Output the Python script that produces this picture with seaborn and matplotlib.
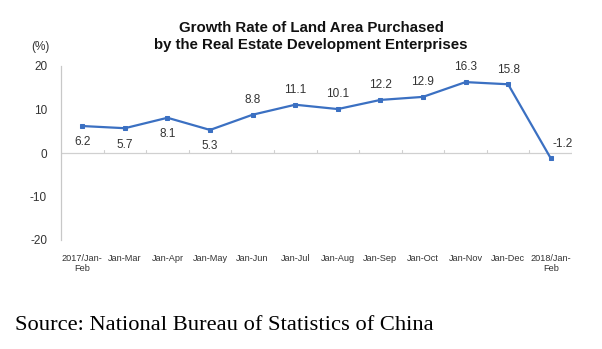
import matplotlib
matplotlib.use("Agg")
import matplotlib.pyplot as plt
import seaborn as sns
import pandas as pd
import numpy as np

categories = ["2017/Jan-\nFeb", "Jan-Mar", "Jan-Apr", "Jan-May", "Jan-Jun", "Jan-Jul",
              "Jan-Aug", "Jan-Sep", "Jan-Oct", "Jan-Nov", "Jan-Dec", "2018/Jan-\nFeb"]
values = [6.2, 5.7, 8.1, 5.3, 8.8, 11.1, 10.1, 12.2, 12.9, 16.3, 15.8, -1.2]
label_below = [True, True, True, True, False, False, False, False, False, False, False, False]
yticks = [-20, -10, 0, 10, 20]

sns.set_theme(style="white")
plt.rcParams['font.family'] = ['Liberation Sans', 'DejaVu Sans']

fig = plt.figure(figsize=(6.02, 3.49), dpi=100)
ax = fig.add_axes([61/602, 1-240/349, (572-61)/602, (240-66)/349])

df = pd.DataFrame({"x": np.arange(len(categories)), "v": values})
line_color = "#3B70C2"
sns.lineplot(data=df, x="x", y="v", ax=ax, color=line_color, linewidth=1.6,
             marker="s", markersize=3.5, markeredgecolor=line_color)

ax.set_xlim(-0.5, len(categories) - 0.5)
ax.set_ylim(-20, 20)
ax.set_yticks(yticks)
ax.set_yticklabels([str(t) for t in yticks], fontsize=8.5, color="#333333")
ax.set_xticks(np.arange(len(categories)))
ax.set_xticklabels(categories, fontsize=6.6, color="#333333", linespacing=1.1)
ax.tick_params(axis="x", length=0, pad=10)
ax.tick_params(axis="y", length=3, width=0.6, color="#bbbbbb", direction="in", pad=10)
ax.set_xlabel("")
ax.set_ylabel("")

for s in ["top", "right", "bottom"]:
    ax.spines[s].set_visible(False)
ax.spines["left"].set_color("#c8c8c8")
ax.spines["left"].set_linewidth(0.9)

# zero line with small ticks at category boundaries
ax.axhline(0, color="#d0d0d0", linewidth=0.9, zorder=0)
for b in np.arange(0.5, len(categories) - 0.5, 1.0):
    ax.plot([b, b], [0, 0.8], color="#d0d0d0", linewidth=0.8, zorder=0)
ax.plot([len(categories) - 0.5] * 2, [0, 0.8], color="#d0d0d0", linewidth=0.8, zorder=0)

for i, (v, below) in enumerate(zip(values, label_below)):
    if i == len(values) - 1:
        ax.text(i + 0.05, v + 2.0, f"{v}", ha="left", va="bottom", fontsize=8.5, color="#333333")
    elif below:
        ax.text(i, v - 2.4, f"{v}", ha="center", va="top", fontsize=8.5, color="#333333")
    else:
        ax.text(i, v + 2.0, f"{v}", ha="center", va="bottom", fontsize=8.5, color="#333333")

fig.text(40/602, 1-47/349, "(%)", fontsize=8.5, color="#333333", ha="center", va="center")
fig.text(311/602, 1-28/349, "Growth Rate of Land Area Purchased", fontsize=10.8,
         fontweight="bold", ha="center", va="center", color="#111111")
fig.text(311/602, 1-45/349, "by the Real Estate Development Enterprises", fontsize=10.8,
         fontweight="bold", ha="center", va="center", color="#111111")
fig.text(15/602, 1-325/349, "Source: National Bureau of Statistics of China", fontsize=16.2,
         family="Liberation Serif", ha="left", va="center", color="#000000")

fig.savefig("out.png", dpi=100)
